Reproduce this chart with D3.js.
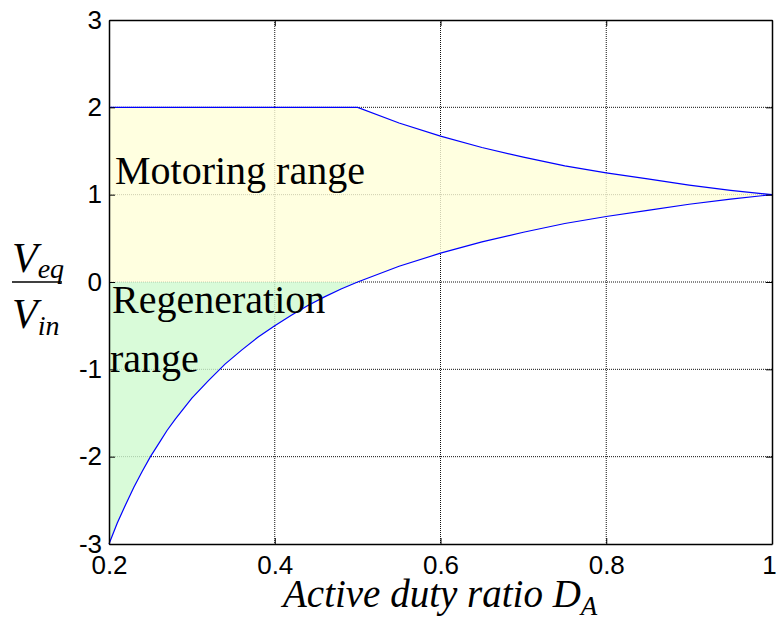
<!DOCTYPE html>
<html>
<head>
<meta charset="utf-8">
<script src="https://cdn.jsdelivr.net/npm/d3@7"></script>
<style>
body { margin: 0; background: #fff; }
</style>
</head>
<body>
<div id="chart"></div>
<script>
// values
var dutyUpper = [0.2, 0.5, 0.55, 0.6, 0.65, 0.7, 0.75, 0.8, 0.85, 0.9, 0.95, 1.0];
var vUpper    = [2.0, 2.0, 1.82, 1.67, 1.54, 1.43, 1.33, 1.25, 1.18, 1.11, 1.05, 1.0];

var dutyLower = [0.2, 0.21, 0.22, 0.23, 0.24, 0.25, 0.26, 0.27, 0.28, 0.29, 0.3,
                 0.32, 0.34, 0.36, 0.38, 0.4, 0.42, 0.44, 0.46, 0.48, 0.5,
                 0.55, 0.6, 0.65, 0.7, 0.75, 0.8, 0.85, 0.9, 0.95, 1.0];
var vLower    = [-3.0, -2.76, -2.55, -2.35, -2.17, -2.0, -1.85, -1.7, -1.57, -1.45, -1.33,
                 -1.13, -0.94, -0.78, -0.63, -0.5, -0.38, -0.27, -0.17, -0.08, 0.0,
                 0.18, 0.33, 0.46, 0.57, 0.67, 0.75, 0.82, 0.89, 0.95, 1.0];

var xTicks = [0.2, 0.4, 0.6, 0.8, 1];
var xTickLabels = ["0.2", "0.4", "0.6", "0.8", "1"];
var yTicks = [-3, -2, -1, 0, 1, 2, 3];
var yTickLabels = ["-3", "-2", "-1", "0", "1", "2", "3"];

var margin = {top: 20, right: 4, bottom: 83, left: 109},
    width = 776 - margin.left - margin.right,
    height = 627 - margin.top - margin.bottom;

var svgRoot = d3.select("#chart")
    .append("svg")
        .attr("width", 776)
        .attr("height", 627);
var svg = svgRoot.append("g")
        .attr("transform", "translate(" + margin.left + "," + margin.top + ")");

var x = d3.scaleLinear().domain([0.2, 1]).range([0, width]);
var y = d3.scaleLinear().domain([-3, 3]).range([height, 0]);

// grid (dotted, matlab style)
svg.append("g")
    .selectAll("line")
    .data(xTicks.slice(1, -1))
    .enter().append("line")
        .attr("x1", d => x(d)).attr("x2", d => x(d))
        .attr("y1", 0).attr("y2", height)
        .attr("stroke", "#111")
        .attr("stroke-dasharray", "1,1");
svg.append("g")
    .selectAll("line")
    .data(yTicks.slice(1, -1))
    .enter().append("line")
        .attr("x1", 0).attr("x2", width)
        .attr("y1", d => y(d)).attr("y2", d => y(d))
        .attr("stroke", "#111")
        .attr("stroke-dasharray", "1,1");

var upperPts = dutyUpper.map((d, i) => [d, vUpper[i]]);
var lowerPts = dutyLower.map((d, i) => [d, vLower[i]]);

var line = d3.line().x(d => x(d[0])).y(d => y(d[1]));

// motoring region: under upper curve, above max(lower, 0)
var yellowPoly = upperPts
    .concat(lowerPts.filter(d => d[1] >= 0).reverse())
    .concat([[0.2, 0]]);
svg.append("path")
    .attr("d", line(yellowPoly) + "Z")
    .attr("fill", "#ffffd8")
    .attr("fill-opacity", 0.8);

// regeneration region: between 0 and the lower curve
var greenPoly = [[0.2, 0]].concat(lowerPts.filter(d => d[1] <= 0));
svg.append("path")
    .attr("d", line(greenPoly) + "Z")
    .attr("fill", "#cffacf")
    .attr("fill-opacity", 0.8);

// curves
svg.append("path")
    .attr("d", line(upperPts))
    .attr("fill", "none")
    .attr("stroke", "#0000ff")
    .attr("stroke-width", 1.2);
svg.append("path")
    .attr("d", line(lowerPts))
    .attr("fill", "none")
    .attr("stroke", "#0000ff")
    .attr("stroke-width", 1.2);

// axes with inward ticks
var tickFont = "'Liberation Sans', Arial, sans-serif";
svg.append("g")
    .attr("transform", "translate(0," + height + ")")
    .call(d3.axisBottom(x).tickValues(xTicks).tickSizeInner(-6).tickSizeOuter(0).tickPadding(12)
        .tickFormat((d, i) => xTickLabels[i]))
    .call(g => g.selectAll("text").style("font-size", "26px").style("font-family", tickFont).attr("fill", "#000"))
    .call(g => g.selectAll(".tick:last-of-type text").attr("dx", -3));
svg.append("g")
    .call(d3.axisTop(x).tickValues(xTicks).tickSizeInner(-6).tickSizeOuter(0).tickFormat(""));
svg.append("g")
    .call(d3.axisLeft(y).tickValues(yTicks).tickSizeInner(-6).tickSizeOuter(0).tickPadding(7)
        .tickFormat((d, i) => yTickLabels[i]))
    .call(g => g.selectAll("text").style("font-size", "26px").style("font-family", tickFont).attr("fill", "#000"));
svg.append("g")
    .attr("transform", "translate(" + width + ",0)")
    .call(d3.axisRight(y).tickValues(yTicks).tickSizeInner(-6).tickSizeOuter(0).tickFormat(""));
svg.selectAll(".domain").attr("stroke", "#000").attr("stroke-width", 1.5);

// region labels
var serif = "'Liberation Serif', 'Times New Roman', serif";
svg.append("text")
    .attr("x", 6).attr("y", y(1.12))
    .style("font-family", serif).style("font-size", "40px")
    .text("Motoring range");
svg.append("text")
    .attr("x", 3).attr("y", y(-0.35))
    .style("font-family", serif).style("font-size", "40px")
    .text("Regeneration");
svg.append("text")
    .attr("x", 1).attr("y", y(-1.03))
    .style("font-family", serif).style("font-size", "40px")
    .text("range");

// x label
var xl = svgRoot.append("text")
    .attr("x", 283).attr("y", 607)
    .style("font-family", serif).style("font-size", "39px").style("font-style", "italic");
xl.append("tspan").text("Active duty ratio D");
xl.append("tspan").attr("dy", 8).style("font-size", "27px").text("A");

// y label as fraction
var yl = svgRoot.append("g");
var num = yl.append("text").attr("x", 12).attr("y", 272)
    .style("font-family", serif).style("font-size", "42px").style("font-style", "italic");
num.append("tspan").text("V");
num.append("tspan").attr("dy", 6).style("font-size", "28px").text("eq");
yl.append("line")
    .attr("x1", 12).attr("x2", 62).attr("y1", 282).attr("y2", 282)
    .attr("stroke", "#000").attr("stroke-width", 1.3);
var den = yl.append("text").attr("x", 12).attr("y", 328)
    .style("font-family", serif).style("font-size", "42px").style("font-style", "italic");
den.append("tspan").text("V");
den.append("tspan").attr("dy", 7).style("font-size", "28px").text("in");
</script>
</body>
</html>
